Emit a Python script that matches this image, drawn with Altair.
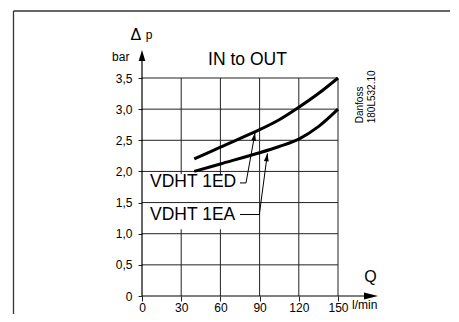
import altair as alt
import pandas as pd

# ---- data ----
Q_ED = [40, 60, 90, 105, 120, 135, 150]
DP_ED = [2.2, 2.39, 2.67, 2.83, 3.03, 3.25, 3.5]
Q_EA = [40, 60, 90, 105, 120, 135, 150]
DP_EA = [2.0, 2.12, 2.3, 2.4, 2.52, 2.72, 3.0]
X_TICKS = [0, 30, 60, 90, 120, 150]
Y_TICKS = [0, 0.5, 1.0, 1.5, 2.0, 2.5, 3.0, 3.5]
SERIES = ["VDHT 1ED", "VDHT 1EA"]

FONT = "Liberation Sans"
GRID = "#222222"

XS = alt.Scale(domain=[0, 150], nice=False, zero=False)
YS = alt.Scale(domain=[0, 3.5], nice=False, zero=False)

AX_X = alt.Axis(values=X_TICKS, grid=False, domain=False, tickSize=5,
                tickColor=GRID, labelPadding=1, labelFontSize=12,
                labelFont=FONT, labelColor="#000", labelAngle=0,
                labelFlush=False, labelOverlap=False, title=None)
AX_Y = alt.Axis(values=Y_TICKS, grid=False, domain=False, tickSize=4,
                tickColor=GRID, labelPadding=6, labelFontSize=12,
                labelFont=FONT, labelColor="#000",
                labelFlush=False, labelOverlap=False, title=None,
                labelExpr="datum.value == 0 ? '0' : replace(format(datum.value, '.1f'), '.', ',')")


def X(field="x"):
    return alt.X(field, type="quantitative", scale=XS, axis=AX_X, title=None)


def Y(field="y"):
    return alt.Y(field, type="quantitative", scale=YS, axis=AX_Y, title=None)


curves = pd.DataFrame(
    {"q": Q_ED + Q_EA, "dp": DP_ED + DP_EA,
     "s": [SERIES[0]] * len(Q_ED) + [SERIES[1]] * len(Q_EA)}
)

vgrid_df = pd.DataFrame({"x": X_TICKS[1:], "y": 0.0, "y2": Y_TICKS[-1]})
hgrid_df = pd.DataFrame({"y": Y_TICKS[1:], "x": 0.0, "x2": X_TICKS[-1]})

vgrid = alt.Chart(vgrid_df).mark_rule(color=GRID, strokeWidth=1).encode(
    x=X("x"), y=Y("y"), y2="y2")

mask = alt.Chart(pd.DataFrame({"x": [0], "x2": [77], "y": [1.07], "y2": [1.96]})).mark_rect(
    color="white").encode(x=X("x"), x2="x2", y=Y("y"), y2="y2")

hgrid = alt.Chart(hgrid_df).mark_rule(color=GRID, strokeWidth=1).encode(
    y=Y("y"), x=X("x"), x2="x2")

# axis lines with arrows
yaxis_line = alt.Chart(pd.DataFrame({"x": [0], "y": [0], "y2": [3.9]})).mark_rule(
    color="#000", strokeWidth=1.2).encode(x=X("x"), y=Y("y"), y2="y2")
xaxis_line = alt.Chart(pd.DataFrame({"y": [0], "x": [0], "x2": [176]})).mark_rule(
    color="#000", strokeWidth=1.2).encode(y=Y("y"), x=X("x"), x2="x2")
yarrow = alt.Chart(pd.DataFrame({"x": [0], "y": [3.95]})).mark_point(
    shape="M0,0 L-0.3,1 L0.3,1 Z", size=484, filled=True, color="#000", opacity=1,
    strokeWidth=0).encode(x=X("x"), y=Y("y"))
xarrow = alt.Chart(pd.DataFrame({"x": [180.6], "y": [0]})).mark_point(
    shape="M0,0 L-1,-0.25 L-1,0.25 Z", size=784, filled=True, color="#000", opacity=1,
    strokeWidth=0).encode(x=X("x"), y=Y("y"))

lines = alt.Chart(curves).mark_line(color="#000", strokeWidth=3, interpolate="catmull-rom",
                                    strokeCap="butt").encode(
    x=X("q"), y=Y("dp"), detail="s:N")

# leader lines from the labels to the curves
leaders = pd.DataFrame({
    "x": [75, 79.6, 86.5, 75, 89.8, 96.0],
    "y": [1.815, 1.815, 2.62, 1.308, 1.308, 2.29],
    "o": [0, 1, 2, 0, 1, 2],
    "s": [SERIES[0]] * 3 + [SERIES[1]] * 3,
})
leader_lines = alt.Chart(leaders).mark_line(color="#000", strokeWidth=1).encode(
    x=X("x"), y=Y("y"), detail="s:N", order="o:Q")
heads = pd.DataFrame({"x": [86.5, 96.0], "y": [2.62, 2.29], "a": [10, 8]})
leader_heads = alt.Chart(heads).mark_point(
    shape="M0,0 L-0.3,1 L0.3,1 Z", size=256, filled=True, color="#000", opacity=1,
    strokeWidth=0).encode(x=X("x"), y=Y("y"), angle=alt.Angle("a:Q", scale=None))


def text(t, x, y, size, align="left", baseline="middle", angle=0):
    kw = dict(font=FONT, fontSize=size, align=align, baseline=baseline, color="#000")
    if angle:
        kw["angle"] = angle
    return alt.Chart(pd.DataFrame({"x": [x], "y": [y], "t": [t]})).mark_text(**kw).encode(
        x=X("x"), y=Y("y"), text="t:N")


texts = [
    text("IN to OUT", 80.7, 3.79, 17.5, align="center"),
    text(SERIES[0], 6.1, 1.835, 17.5),
    text(SERIES[1], 6.1, 1.30, 17.5),
    text("Q", 174.9, 0.31, 16, align="center"),
    text("l/min", 160.8, -0.145, 12),
    text("Δ", -4.8, 4.195, 16, align="center"),
    text("p", 5.4, 4.134, 12, align="center", baseline="alphabetic"),
    text("bar", -9.6, 3.837, 12, align="right"),
    text("Danfoss", 169.1, 2.773, 10, baseline="alphabetic", angle=270),
    text("180L532.10", 178.3, 2.773, 10, baseline="alphabetic", angle=270),
]

# outer frame of the figure (pixel offsets from the plot origin)
frame_left = alt.Chart(pd.DataFrame({"a": [0]})).mark_rule(color="#333", strokeWidth=1.3).encode(
    x=alt.value(-128.5), y=alt.value(-67), y2=alt.value(240))
frame_top = alt.Chart(pd.DataFrame({"a": [0]})).mark_rule(color="#333", strokeWidth=1.3).encode(
    x=alt.value(-128.5), x2=alt.value(320), y=alt.value(-67))

chart = alt.layer(
    vgrid, mask, hgrid, yaxis_line, xaxis_line, yarrow, xarrow,
    lines, leader_lines, leader_heads, *texts, frame_left, frame_top
).properties(
    width=196, height=218,
    padding={"left": 134, "top": 70, "right": 112, "bottom": 18},
    autosize=alt.AutoSizeParams(type="none"),
    background="white",
).configure_view(stroke=None)

chart.save("out.html", embed_options={"renderer": "svg", "actions": False})
